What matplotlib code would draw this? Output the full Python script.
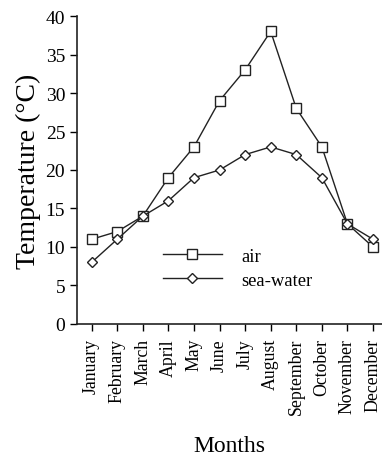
import matplotlib.pyplot as plt

plt.rcParams['font.family'] = ['Liberation Serif', 'DejaVu Serif']

months = ['January', 'February', 'March', 'April', 'May', 'June', 'July',
          'August', 'September', 'October', 'November', 'December']
air = [11, 12, 14, 19, 23, 29, 33, 38, 28, 23, 13, 10]
sea_water = [8, 11, 14, 16, 19, 20, 22, 23, 22, 19, 13, 11]

fig = plt.figure(figsize=(3.82, 4.56), dpi=100)
ax = fig.add_axes([0.2016, 0.2873, 0.7984, 0.6754])

x = range(len(months))
ax.plot(x, air, color='#222222', lw=1.0, marker='s', ms=7,
        mfc='white', mec='#222222', mew=1.0, label='air')
ax.plot(x, sea_water, color='#222222', lw=1.0, marker='D', ms=5.5,
        mfc='white', mec='#222222', mew=1.0, label='sea-water')

ax.set_xlim(-0.57, 11.35)
ax.set_ylim(0, 40)
ax.set_yticks(range(0, 41, 5))
ax.set_xticks(list(x))
ax.set_xticklabels(months, rotation=90, fontsize=12.8)
ax.tick_params(axis='y', labelsize=14, direction='out', length=5, width=1)
ax.tick_params(axis='x', direction='out', length=5, width=1, pad=5)
for s in ['top', 'right']:
    ax.spines[s].set_visible(False)
for s in ['left', 'bottom']:
    ax.spines[s].set_linewidth(1.2)
    ax.spines[s].set_color('#222222')

ax.set_ylabel('Temperature (°C)', fontsize=20, labelpad=3)
ax.set_xlabel('Months', fontsize=17, labelpad=15)

ax.legend(loc='center left', bbox_to_anchor=(0.281, 0.181), frameon=False,
          fontsize=13.4, handlelength=3.2, handletextpad=1.0, labelspacing=0.35,
          borderpad=0, borderaxespad=0)

fig.savefig('out.png', dpi=100)
